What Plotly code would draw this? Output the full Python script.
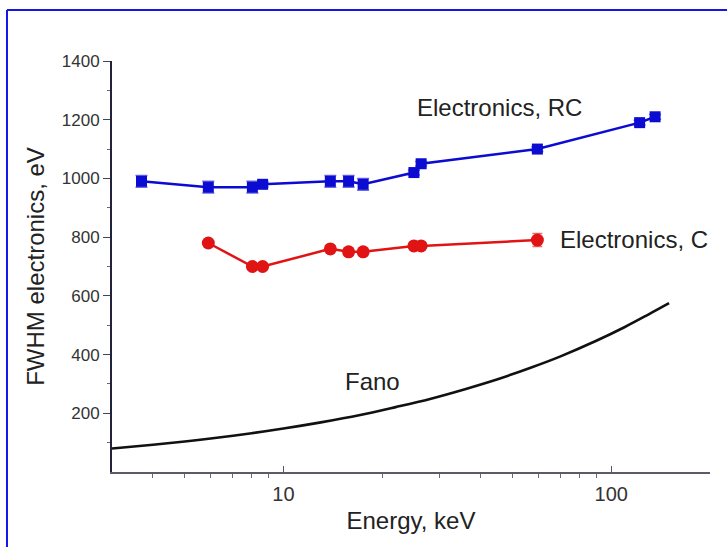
import plotly.graph_objects as go

# ---- data ----
rc_energy = [3.69, 5.9, 8.04, 8.64, 13.9, 15.8, 17.5, 25.0, 26.3, 59.5, 122.0, 136.0]
rc_fwhm = [990, 970, 970, 980, 990, 990, 980, 1020, 1050, 1100, 1190, 1210]
rc_err = [20, 20, 20, 8, 20, 20, 20, 8, 8, 8, 8, 8]

c_energy = [5.9, 8.04, 8.64, 13.9, 15.8, 17.5, 25.0, 26.3, 59.5]
c_fwhm = [780, 700, 700, 760, 750, 750, 770, 770, 790]
c_err = [8, 8, 8, 8, 8, 8, 8, 8, 22]

fano_energy = [3.0, 4.0, 5.0, 6.0, 8.0, 10.0, 13.0, 17.0, 22.0, 28.0,
               36.0, 45.0, 57.0, 70.0, 90.0, 110.0, 130.0, 150.0]
fano_fwhm = [80, 93, 104, 114, 132, 148, 169, 193, 221, 249,
             283, 316, 356, 394, 447, 494, 537, 575]

x_major_ticks = [10, 100]
x_major_labels = ["10", "100"]
x_minor_ticks = [4, 5, 6, 7, 8, 9, 20, 30, 40, 50, 60, 70, 80, 90, 200]
y_major_ticks = [200, 400, 600, 800, 1000, 1200, 1400]
y_minor_ticks = [100, 300, 500, 700, 900, 1100, 1300]

FONT = "Liberation Sans, Arial, sans-serif"
BLUE = "#0b0bd2"
RED = "#e01414"

fig = go.Figure()

fig.add_trace(go.Scatter(
    x=fano_energy, y=fano_fwhm, mode="lines",
    line=dict(color="#111111", width=2.6, shape="spline", smoothing=1.0),
    showlegend=False, hoverinfo="skip"))

fig.add_trace(go.Scatter(
    x=c_energy, y=c_fwhm, mode="lines+markers",
    line=dict(color=RED, width=2.5),
    marker=dict(symbol="circle", size=13, color=RED),
    error_y=dict(type="data", array=c_err, color="#ee7070", thickness=1.5, width=5),
    showlegend=False))

fig.add_trace(go.Scatter(
    x=rc_energy, y=rc_fwhm, mode="lines+markers",
    line=dict(color=BLUE, width=2.5),
    marker=dict(symbol="square", size=11, color=BLUE),
    error_y=dict(type="data", array=rc_err, color="#6a6ae6", thickness=1.5, width=6),
    showlegend=False))

fig.update_xaxes(
    type="log", range=[0.4771, 2.3010],
    showline=True, linecolor="#5a5a6a", linewidth=1.5,
    showgrid=False, zeroline=False,
    tickvals=x_major_ticks, ticktext=x_major_labels,
    ticks="inside", ticklen=6, tickwidth=1.2, tickcolor="#555566",
    ticklabelstandoff=3,
    minor=dict(tickvals=x_minor_ticks, ticks="outside", ticklen=4,
               tickwidth=1.2, tickcolor="#666677"),
    tickfont=dict(family=FONT, size=20, color="#333333"),
    title=dict(text="Energy, keV", font=dict(family=FONT, size=24, color="#222222"),
               standoff=8),
)

fig.update_yaxes(
    range=[0, 1400],
    showline=True, linecolor="#22223a", linewidth=2,
    showgrid=False, zeroline=False,
    tickvals=y_major_ticks,
    ticks="outside", ticklen=7, tickwidth=1.2, tickcolor="#444455",
    minor=dict(tickvals=y_minor_ticks, ticks="outside", ticklen=3,
               tickwidth=1.2, tickcolor="#666677"),
    tickfont=dict(family=FONT, size=17, color="#333333"),
    title=dict(text="FWHM electronics, eV", font=dict(family=FONT, size=24, color="#222222"),
               standoff=10),
)

fig.add_annotation(text="Electronics, RC", xref="paper", yref="paper",
                   x=0.5067, y=0.888, xanchor="left", yanchor="middle", showarrow=False,
                   font=dict(family=FONT, size=24, color="#222222"))
fig.add_annotation(text="Electronics, C", xref="paper", yref="paper",
                   x=0.7458, y=0.5645, xanchor="left", yanchor="middle", showarrow=False,
                   font=dict(family=FONT, size=24, color="#222222"))
fig.add_annotation(text="Fano", xref="paper", yref="paper",
                   x=0.4348, y=0.2214, xanchor="center", yanchor="middle", showarrow=False,
                   font=dict(family=FONT, size=24, color="#222222"))

# blue frame lines (left and top) of the picture
fig.add_shape(type="line", xref="paper", yref="paper",
              x0=-0.1756, x1=-0.1756, y0=-0.19, y1=1.1241,
              line=dict(color="#1515e8", width=2))
fig.add_shape(type="line", xref="paper", yref="paper",
              x0=-0.1756, x1=1.04, y0=1.1241, y1=1.1241,
              line=dict(color="#1515e8", width=2))

fig.update_layout(
    width=727, height=547,
    margin=dict(l=112, r=17, t=61, b=75),
    paper_bgcolor="white", plot_bgcolor="white",
    showlegend=False,
)

fig.write_html("out.html")
